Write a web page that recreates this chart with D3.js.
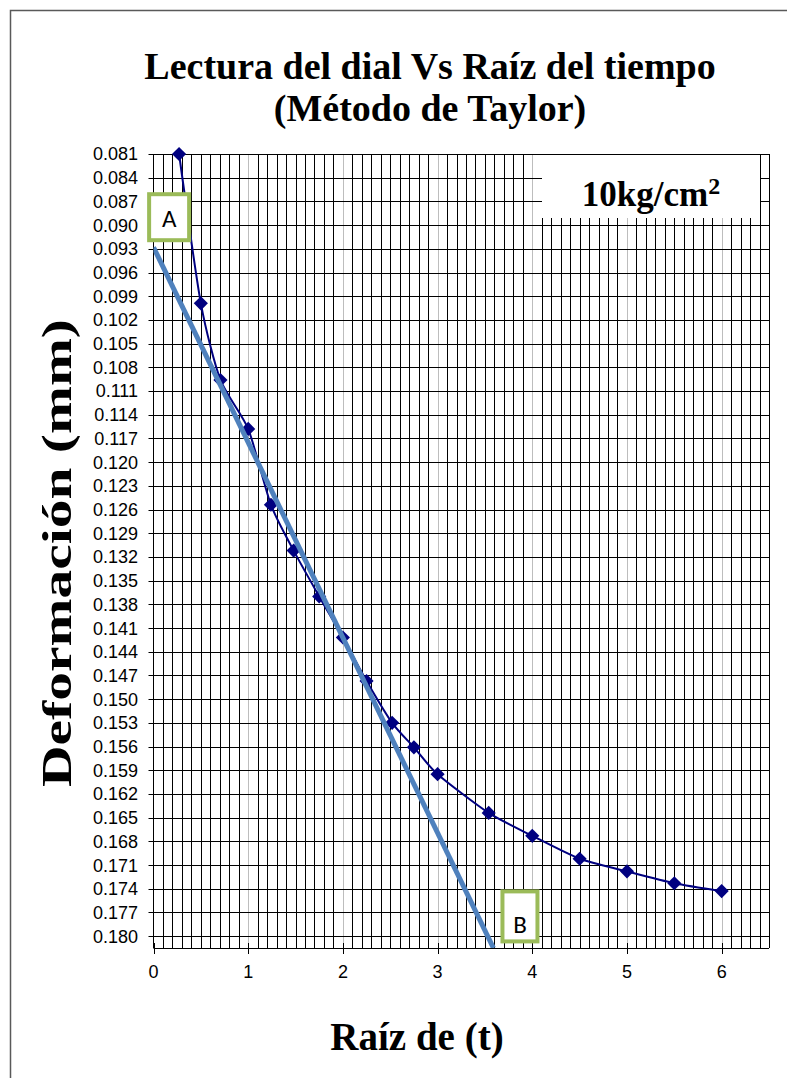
<!DOCTYPE html>
<html>
<head>
<meta charset="utf-8">
<script src="https://cdn.jsdelivr.net/npm/d3@7"></script>
<style>
  html, body { margin: 0; padding: 0; background: #fff; }
  svg { display: block; }
</style>
</head>
<body>
<div id="chart"></div>
<script>
// datos: raiz del tiempo vs lectura del dial
const raizT = [0.27, 0.5, 0.707, 1.0, 1.24, 1.48, 1.75, 2.0, 2.25, 2.52, 2.75, 3.0, 3.54, 4.0, 4.5, 5.0, 5.5, 6.0];
const deform = [0.081, 0.0999, 0.1096, 0.1158, 0.1254, 0.1312, 0.1370, 0.1422, 0.1477, 0.1530, 0.1561, 0.1595, 0.1644, 0.1673, 0.1702, 0.1718, 0.1733, 0.1743];

// recta de Taylor (A -> B)
const rectaX = [0, 3.59];
const rectaY = [0.0928, 0.1815];

// etiquetas de los ejes
const yTicks = ["0.081","0.084","0.087","0.090","0.093","0.096","0.099","0.102","0.105","0.108",
  "0.111","0.114","0.117","0.120","0.123","0.126","0.129","0.132","0.135","0.138","0.141",
  "0.144","0.147","0.150","0.153","0.156","0.159","0.162","0.165","0.168","0.171","0.174",
  "0.177","0.180"];
const xTicks = [0, 1, 2, 3, 4, 5, 6];

// marcas A y B
const marcas = ["A", "B"];
const marcasX = [0.165, 3.87];
const marcasY = [0.0890, 0.1775];

const W = 787, H = 1078;
const mLeft = 153.5, mRight = 769, mTop = 154, mBottom = 948;

const svg = d3.select("#chart").append("svg")
  .attr("width", W).attr("height", H);

// borde exterior del grafico
svg.append("rect")
  .attr("x", 10.5).attr("y", 10.5)
  .attr("width", 900).attr("height", 1200)
  .attr("fill", "none")
  .attr("stroke", "#595959")
  .attr("stroke-width", 1.5);

const x = d3.scaleLinear().domain([0, 6.5]).range([mLeft, mRight]);
const y = d3.scaleLinear().domain([0.081, 0.1815]).range([mTop, mBottom]);

// grid vertical (cada 0.1)
const minor = d3.range(1, 65).map(i => i / 10);
svg.append("g")
  .selectAll("line")
  .data(minor)
  .enter().append("line")
  .attr("x1", d => Math.round(x(d)) + 0.5)
  .attr("x2", d => Math.round(x(d)) + 0.5)
  .attr("y1", mTop).attr("y2", mBottom)
  .attr("stroke", (d, i) => (i + 1) % 10 === 0 ? "#bdbdbd" : "#000")
  .attr("stroke-width", 1);

// grid horizontal
svg.append("g")
  .selectAll("line")
  .data(yTicks)
  .enter().append("line")
  .attr("x1", mLeft).attr("x2", mRight)
  .attr("y1", d => Math.round(y(+d)) + 0.5)
  .attr("y2", d => Math.round(y(+d)) + 0.5)
  .attr("stroke", "#000")
  .attr("stroke-width", 1);

// marco del area de trazado
svg.append("line")
  .attr("x1", Math.round(mRight) + 0.5).attr("x2", Math.round(mRight) + 0.5)
  .attr("y1", mTop).attr("y2", mBottom)
  .attr("stroke", "#000");

// eje y
const yAxis = svg.append("g");
yAxis.append("line")
  .attr("x1", mLeft).attr("x2", mLeft)
  .attr("y1", mTop).attr("y2", mBottom)
  .attr("stroke", "#000");
yAxis.selectAll(".tk")
  .data(yTicks)
  .enter().append("line")
  .attr("class", "tk")
  .attr("x1", mLeft - 5).attr("x2", mLeft)
  .attr("y1", d => Math.round(y(+d)) + 0.5)
  .attr("y2", d => Math.round(y(+d)) + 0.5)
  .attr("stroke", "#000");
yAxis.selectAll("text")
  .data(yTicks)
  .enter().append("text")
  .attr("x", 138)
  .attr("y", d => y(+d))
  .attr("dy", "0.36em")
  .attr("text-anchor", "end")
  .attr("font-family", "'Liberation Sans', Arial, sans-serif")
  .attr("font-size", "18px")
  .attr("fill", "#000")
  .text(d => d);

// eje x
const xAxis = svg.append("g");
xAxis.append("line")
  .attr("x1", mLeft).attr("x2", mRight)
  .attr("y1", mBottom + 0.5).attr("y2", mBottom + 0.5)
  .attr("stroke", "#000");
xAxis.selectAll(".tk")
  .data(xTicks)
  .enter().append("line")
  .attr("class", "tk")
  .attr("x1", d => Math.round(x(d)) + 0.5)
  .attr("x2", d => Math.round(x(d)) + 0.5)
  .attr("y1", mBottom - 5).attr("y2", mBottom + 6)
  .attr("stroke", "#000");
xAxis.selectAll("text")
  .data(xTicks)
  .enter().append("text")
  .attr("x", d => x(d))
  .attr("y", 978)
  .attr("text-anchor", "middle")
  .attr("font-family", "'Liberation Sans', Arial, sans-serif")
  .attr("font-size", "18px")
  .attr("fill", "#000")
  .text(d => d);

// serie de datos
const puntos = raizT.map((v, i) => [v, deform[i]]);
svg.append("path")
  .datum(puntos)
  .attr("fill", "none")
  .attr("stroke", "#000080")
  .attr("stroke-width", 2)
  .attr("d", d3.line()
    .x(d => x(d[0]))
    .y(d => y(d[1]))
    .curve(d3.curveCardinal.tension(0.3)));

svg.append("g")
  .selectAll("path")
  .data(puntos)
  .enter().append("path")
  .attr("transform", d => `translate(${x(d[0])},${y(d[1])}) rotate(45)`)
  .attr("d", d3.symbol(d3.symbolSquare, 100))
  .attr("fill", "#000080");

// recta
svg.append("defs").append("clipPath").attr("id", "clip")
  .append("rect")
  .attr("x", mLeft).attr("y", mTop)
  .attr("width", mRight - mLeft).attr("height", mBottom - mTop);

svg.append("path")
  .datum(rectaX.map((v, i) => [v, rectaY[i]]))
  .attr("clip-path", "url(#clip)")
  .attr("fill", "none")
  .attr("stroke", "#4f81bd")
  .attr("stroke-width", 5)
  .attr("d", d3.line().x(d => x(d[0])).y(d => y(d[1])));

// caja de la carga
const leyenda = svg.append("g");
leyenda.append("rect")
  .attr("x", 542).attr("y", mTop + 1)
  .attr("width", 218).attr("height", 63)
  .attr("fill", "#fff");
const lt = leyenda.append("text")
  .attr("x", 651).attr("y", 206)
  .attr("text-anchor", "middle")
  .attr("font-family", "'Liberation Serif', 'Times New Roman', serif")
  .attr("font-weight", "bold")
  .attr("font-size", "35px")
  .attr("fill", "#000");
lt.append("tspan").text("10kg/cm");
lt.append("tspan").attr("font-size", "24px").attr("dy", -12).text("2");

// marcas A y B
const mk = svg.append("g")
  .selectAll("g")
  .data(marcas)
  .enter().append("g")
  .attr("transform", (d, i) => `translate(${x(marcasX[i])},${y(marcasY[i])})`);
mk.append("rect")
  .attr("x", (d, i) => i === 0 ? -20 : -17.5)
  .attr("y", (d, i) => i === 0 ? -23 : -25)
  .attr("width", (d, i) => i === 0 ? 40 : 35)
  .attr("height", (d, i) => i === 0 ? 46 : 50)
  .attr("fill", "#fff")
  .attr("stroke", "#9bbb59")
  .attr("stroke-width", 4);
mk.append("text")
  .attr("y", (d, i) => i === 0 ? 10 : 17)
  .attr("text-anchor", "middle")
  .attr("font-family", "Carlito, 'Liberation Sans', Arial, sans-serif")
  .attr("font-size", "25px")
  .attr("fill", "#000")
  .text(d => d);

// titulos
const serif = "'Liberation Serif', 'Times New Roman', serif";
svg.append("text")
  .attr("x", 430).attr("y", 79)
  .attr("text-anchor", "middle")
  .attr("font-family", serif).attr("font-weight", "bold")
  .attr("font-size", "38px")
  .text("Lectura del dial Vs Raíz del tiempo");
svg.append("text")
  .attr("x", 430).attr("y", 121)
  .attr("text-anchor", "middle")
  .attr("font-family", serif).attr("font-weight", "bold")
  .attr("font-size", "38px")
  .text("(Método de Taylor)");

svg.append("text")
  .attr("x", 417).attr("y", 1050)
  .attr("text-anchor", "middle")
  .attr("font-family", serif).attr("font-weight", "bold")
  .attr("font-size", "39px")
  .text("Raíz de (t)");

svg.append("text")
  .attr("transform", "translate(71,553) rotate(-90)")
  .attr("text-anchor", "middle")
  .attr("font-family", serif).attr("font-weight", "bold")
  .attr("font-size", "42px")
  .attr("textLength", 468)
  .attr("lengthAdjust", "spacingAndGlyphs")
  .text("Deformación (mm)");
</script>
</body>
</html>
